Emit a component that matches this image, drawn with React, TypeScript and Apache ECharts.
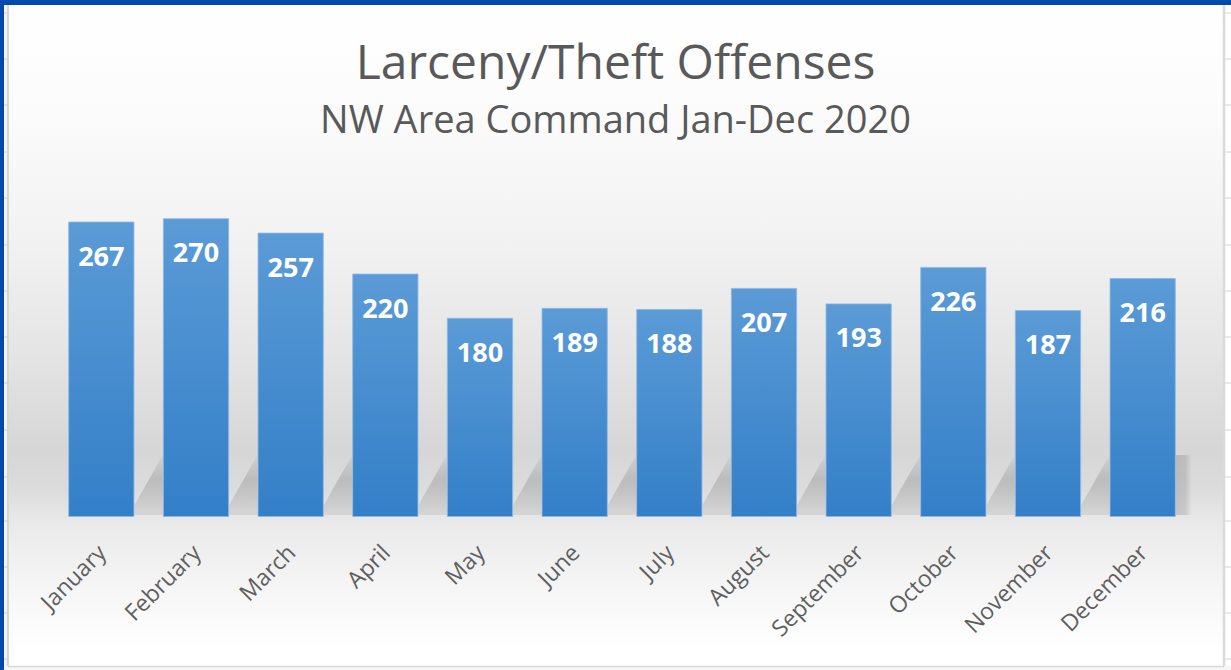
import React, { useEffect, useRef } from "react";
import * as echarts from "echarts";

const categories = [
  "January", "February", "March", "April", "May", "June",
  "July", "August", "September", "October", "November", "December",
];
const offenses = [267, 270, 257, 220, 180, 189, 188, 207, 193, 226, 187, 216];
const yMin = 0;
const yMax = 300;
const titleText = "Larceny/Theft Offenses";
const subtitleText = "NW Area Command Jan-Dec 2020";

const W = 1231;
const H = 670;
const rowLines = [13, 59, 105, 152, 198, 245, 291, 337, 383, 430, 477, 521, 567, 613, 659];

export default function App() {
  const ref = useRef<HTMLDivElement>(null);

  useEffect(() => {
    document.body.style.margin = "0";
    if (!ref.current) return;
    const chart = echarts.init(ref.current, null, { renderer: "svg" });

    const bgTop = 5;
    const bgH = 661;
    const off = (y: number) => (y - bgTop) / bgH;
    const bgGradient = new echarts.graphic.LinearGradient(0, 0, 0, 1, [
      { offset: 0, color: "#ffffff" },
      { offset: off(120), color: "#fbfbfb" },
      { offset: off(250), color: "#f1f1f1" },
      { offset: off(350), color: "#e5e5e5" },
      { offset: off(450), color: "#d6d6d6" },
      { offset: off(490), color: "#dcdcdc" },
      { offset: off(525), color: "#eaeaea" },
      { offset: off(590), color: "#f6f6f6" },
      { offset: off(650), color: "#ffffff" },
      { offset: 1, color: "#ffffff" },
    ]);

    const graphics: any[] = [
      { type: "rect", z: -10, shape: { x: 9, y: bgTop, width: 1214, height: bgH }, style: { fill: bgGradient } },
      { type: "rect", z: -9, shape: { x: 4, y: 5, width: 5, height: 665 }, style: { fill: "#f3f3f3" } },
      { type: "line", z: -8, shape: { x1: 8, y1: 5, x2: 8, y2: 666 }, style: { stroke: "#d6d6d6", lineWidth: 2 } },
      { type: "rect", z: -9, shape: { x: 1223, y: 5, width: 8, height: 665 }, style: { fill: "#ffffff" } },
      { type: "line", z: -8, shape: { x1: 1224, y1: 5, x2: 1224, y2: 666 }, style: { stroke: "#dadada", lineWidth: 2.5 } },
      { type: "rect", z: -9, shape: { x: 4, y: 666, width: 1227, height: 4 }, style: { fill: "#f7f7f7" } },
      { type: "line", z: -8, shape: { x1: 8, y1: 666.5, x2: 1224, y2: 666.5 }, style: { stroke: "#d8d8d8", lineWidth: 1.5 } },
      { type: "rect", z: 20, shape: { x: 0, y: 0, width: W, height: 5 }, style: { fill: "#004aad" } },
      { type: "rect", z: 20, shape: { x: 0, y: 0, width: 4, height: H }, style: { fill: "#004aad" } },
    ];
    rowLines.forEach((y) => {
      graphics.push({ type: "line", z: -7, shape: { x1: 4, y1: y, x2: 8, y2: y }, style: { stroke: "#cfcfcf", lineWidth: 1 } });
      graphics.push({ type: "line", z: -7, shape: { x1: 1225, y1: y, x2: 1231, y2: y }, style: { stroke: "#d4d4d4", lineWidth: 1 } });
    });

    const lastIdx = categories.length - 1;
    const barGapRatio = 0.3;

    const option: any = {
      animation: false,
      backgroundColor: "#ffffff",
      graphic: graphics,
      title: [
        {
          text: titleText,
          left: "center",
          top: 36,
          padding: 0,
          textStyle: { fontFamily: "Open Sans", fontSize: 48, fontWeight: "normal", color: "#595959" },
        },
        {
          text: subtitleText,
          left: "center",
          top: 99,
          padding: 0,
          textStyle: { fontFamily: "Open Sans", fontSize: 38, fontWeight: "normal", color: "#595959" },
        },
      ],
      grid: { left: 54, right: 41, top: 185, bottom: 153 },
      xAxis: {
        type: "category",
        data: categories,
        axisLine: { show: false },
        axisTick: { show: false },
        axisLabel: {
          interval: 0,
          rotate: 45,
          margin: 31,
          fontFamily: "Open Sans",
          fontSize: 23,
          color: "#5f5f5f",
        },
      },
      yAxis: {
        type: "value",
        min: yMin,
        max: yMax,
        show: false,
        splitLine: { show: false },
      },
      series: [
        {
          type: "custom",
          z: 1,
          silent: true,
          data: offenses.map((v, i) => [i, v]),
          encode: { x: 0, y: 1 },
          renderItem: (params: any, api: any) => {
            const i = api.value(0);
            const p = api.coord([i, 0]);
            const cw = api.size([1, 0])[0];
            const bw = cw * (1 - barGapRatio);
            const gw = cw * barGapRatio;
            const L = p[0] - bw / 2;
            const R = p[0] + bw / 2;
            const b = p[1];
            const children: any[] = [];
            if (i > 0) {
              children.push({
                type: "polygon",
                shape: { points: [[L, b - 62], [L, b - 2], [L - gw, b - 2], [L - gw, b - 12]] },
                style: {
                  fill: new echarts.graphic.LinearGradient(0, 0, 0, 1, [
                    { offset: 0, color: "rgba(0,0,0,0.03)" },
                    { offset: 0.4, color: "rgba(0,0,0,0.14)" },
                    { offset: 1, color: "rgba(0,0,0,0.07)" },
                  ]),
                },
              });
            }
            if (i === lastIdx) {
              children.push({
                type: "rect",
                shape: { x: R, y: b - 62, width: 16, height: 60 },
                style: {
                  fill: new echarts.graphic.LinearGradient(0, 0, 1, 0, [
                    { offset: 0, color: "rgba(0,0,0,0.14)" },
                    { offset: 0.6, color: "rgba(0,0,0,0.12)" },
                    { offset: 1, color: "rgba(0,0,0,0.0)" },
                  ]),
                },
              });
            }
            return { type: "group", children };
          },
        },
        {
          type: "bar",
          z: 3,
          data: offenses,
          barCategoryGap: "30%",
          itemStyle: {
            color: new echarts.graphic.LinearGradient(0, 0, 0, 1, [
              { offset: 0, color: "#5b9bd6" },
              { offset: 1, color: "#337fc8" },
            ]),
            borderColor: "rgba(140,185,232,0.8)",
            borderWidth: 1,
          },
          label: {
            show: true,
            position: "insideTop",
            distance: 20,
            color: "#ffffff",
            fontFamily: "Open Sans",
            fontSize: 27,
            fontWeight: "bold",
          },
        },
      ],
    };

    chart.setOption(option);
    return () => chart.dispose();
  }, []);

  return (
    <div
      ref={ref}
      style={{ position: "absolute", left: 0, top: 0, width: W, height: H }}
    />
  );
}
